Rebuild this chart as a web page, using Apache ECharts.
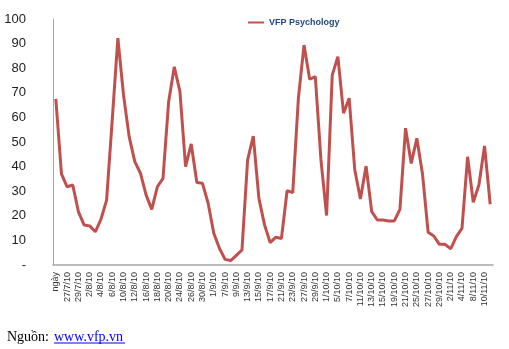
<!DOCTYPE html>
<html>
<head>
<meta charset="utf-8">
<script src="https://cdn.jsdelivr.net/npm/echarts@6/dist/echarts.min.js"></script>
<style>
html,body{margin:0;padding:0;background:#fff;}
#c{width:509px;height:349px;}
</style>
</head>
<body>
<div id="c"></div>
<script>
const categories = ["ngày","26/7/10","27/7/10","28/7/10","29/7/10","30/7/10","2/8/10","3/8/10","4/8/10","5/8/10",
"6/8/10","9/8/10","10/8/10","11/8/10","12/8/10","13/8/10","16/8/10","17/8/10","18/8/10","19/8/10",
"20/8/10","23/8/10","24/8/10","25/8/10","26/8/10","27/8/10","30/8/10","31/8/10","1/9/10","6/9/10",
"7/9/10","8/9/10","9/9/10","10/9/10","13/9/10","14/9/10","15/9/10","16/9/10","17/9/10","20/9/10",
"21/9/10","22/9/10","23/9/10","24/9/10","27/9/10","28/9/10","29/9/10","30/9/10","1/10/10","4/10/10",
"5/10/10","6/10/10","7/10/10","8/10/10","11/10/10","12/10/10","13/10/10","14/10/10","15/10/10","18/10/10",
"19/10/10","20/10/10","21/10/10","22/10/10","25/10/10","26/10/10","27/10/10","28/10/10","29/10/10","1/11/10",
"2/11/10","3/11/10","4/11/10","5/11/10","8/11/10","9/11/10","10/11/10","11/11/10"];
const seriesName = "VFP Psychology";
const values = [67.5,37.0,31.8,32.5,21.7,16.3,15.9,13.5,18.6,26.4,
59.0,92.2,69.1,52.2,42.0,37.3,28.5,22.6,31.8,35.2,
66.4,80.6,70.5,40.0,49.2,33.5,33.2,25.1,12.9,6.8,
2.3,1.8,3.9,6.1,42.7,52.4,27.1,16.3,9.1,11.3,
10.8,30.2,29.4,67.8,89.4,75.5,76.6,42.7,20.1,77.2,
84.7,61.7,67.8,38.6,26.8,40.2,21.7,18.3,18.3,17.9,
17.9,22.6,55.6,41.3,51.5,37.0,13.3,11.8,8.4,8.4,
6.6,11.5,14.9,44.0,25.5,32.5,48.4,24.7];
const yTicks = {min:0, max:100, interval:10};
const sourceLabel = "Nguồn:";
const sourceLink = "www.vfp.vn";

const chart = echarts.init(document.getElementById('c'), null, {renderer:'canvas'});
chart.setOption({
  animation:false,
  backgroundColor:'#fff',
  grid:{left:53, right:16, top:19, bottom:84, containLabel:false},
  legend:{
    left:243, top:13, itemWidth:16, itemHeight:2, itemGap:5,
    data:[{name:seriesName, icon:'rect'}],
    textStyle:{fontFamily:'Liberation Sans, Arial', fontWeight:'bold', fontSize:9, color:'#1F497D'}
  },
  xAxis:{
    type:'category', data:categories, boundaryGap:true,
    axisLine:{show:true, lineStyle:{color:'#A6A6A6', width:1.5}},
    axisTick:{show:false},
    axisLabel:{interval:1, rotate:90, fontSize:9, fontFamily:'Liberation Sans, Arial', color:'#333', margin:7}
  },
  yAxis:{
    type:'value', min:yTicks.min, max:yTicks.max, interval:yTicks.interval,
    splitLine:{show:false},
    axisLine:{show:true, lineStyle:{color:'#A6A6A6', width:1}},
    axisTick:{show:false},
    axisLabel:{fontSize:13, fontFamily:'Liberation Sans, Arial', color:'#222', margin:27,
      formatter:function(v){return v===0?'-':String(v);}}
  },
  series:[{
    name:seriesName, type:'line', data:values, symbol:'none',
    lineStyle:{color:'#C0504D', width:3}, itemStyle:{color:'#C0504D'}
  }],
  graphic:[
    {type:'text', left:7, top:330, style:{text:sourceLabel, font:'14px "Liberation Serif", "Times New Roman", serif', fill:'#000'}},
    {type:'text', left:54, top:330, style:{text:sourceLink, font:'14px "Liberation Serif", "Times New Roman", serif', fill:'#0000FF'}},
    {type:'line', shape:{x1:54, y1:343, x2:125, y2:343}, style:{stroke:'#0000FF', lineWidth:1}}
  ]
});
</script>
</body>
</html>
